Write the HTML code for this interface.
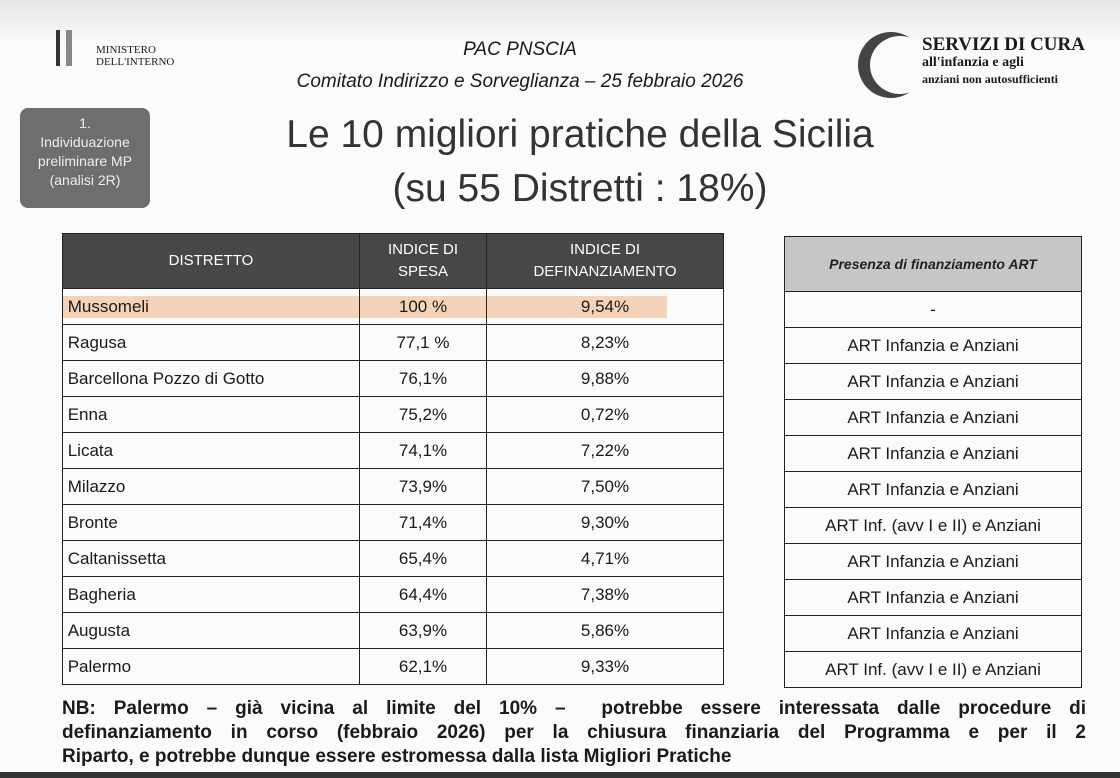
<!DOCTYPE html>
<html><head><meta charset="utf-8"><style>
body{margin:0;width:1120px;height:778px;background:#fbfbfb;position:relative;overflow:hidden;font-family:"Liberation Sans",sans-serif;color:#1a1a1a}
.a{position:absolute}
table{border-collapse:collapse;position:absolute}
td{border:1.5px solid #222;font-size:17px;height:35px;padding:0}
.h td{background:#474747;color:#fff;text-align:center;font-size:15px;height:54px;line-height:22px}
.c{text-align:center}
.nb{position:absolute;left:62px;width:1024px;font-weight:bold;font-size:19px;text-align:justify;text-align-last:justify;white-space:nowrap;overflow:visible}
</style></head><body>
<div class="a" style="left:0;top:0;width:1120px;height:45px;background:linear-gradient(#e6e6e6,#fbfbfb)"></div>
<div class="a" style="left:56px;top:30px;width:4px;height:36px;background:#333"></div>
<div class="a" style="left:66px;top:30px;width:6px;height:36px;background:#888"></div>
<div class="a" style="left:96px;top:44px;font-family:'Liberation Serif',serif;font-size:11px;line-height:12px">MINISTERO<br>DELL'INTERNO</div>
<div class="a" style="left:0;width:1040px;top:34px;text-align:center;font-style:italic;font-size:19px;line-height:32px">PAC PNSCIA<br>Comitato Indirizzo e Sorveglianza – 25 febbraio 2026</div>
<div class="a" style="left:858px;top:32px;width:66px;height:66px;border-radius:50%;background:#444"></div>
<div class="a" style="left:870px;top:36px;width:60px;height:58px;border-radius:50%;background:#fbfbfb"></div>
<div class="a" style="left:922px;top:37px;font-family:'Liberation Serif',serif;font-weight:bold;line-height:16px"><span style="font-size:19px">SERVIZI DI CURA</span><br><span style="font-size:14px">all'infanzia e agli</span><br><span style="font-size:12px">anziani non autosufficienti</span></div>
<div class="a" style="left:20px;top:108px;width:130px;height:100px;border-radius:8px;background:#6e6e6e;color:#eee;font-size:14px;text-align:center;line-height:19px;padding-top:6px;box-sizing:border-box">1.<br>Individuazione<br>preliminare MP<br>(analisi 2R)</div>
<div class="a" style="left:180px;width:800px;top:108px;text-align:center;font-size:39px;line-height:54px;color:#333">Le 10 migliori pratiche della Sicilia<br>(su 55 Distretti : 18%)</div>
<div class="a" style="left:62px;top:296px;width:605px;height:22px;background:#f3c9a8;opacity:.8"></div>
<table style="left:62px;top:233px;width:662px">
<tr class="h"><td style="width:296px">DISTRETTO</td><td style="width:126px">INDICE DI<br>SPESA</td><td>INDICE DI<br>DEFINANZIAMENTO</td></tr>
<tr><td>&nbsp;Mussomeli</td><td class="c">100 %</td><td class="c">9,54%</td></tr>
<tr><td>&nbsp;Ragusa</td><td class="c">77,1 %</td><td class="c">8,23%</td></tr>
<tr><td>&nbsp;Barcellona Pozzo di Gotto</td><td class="c">76,1%</td><td class="c">9,88%</td></tr>
<tr><td>&nbsp;Enna</td><td class="c">75,2%</td><td class="c">0,72%</td></tr>
<tr><td>&nbsp;Licata</td><td class="c">74,1%</td><td class="c">7,22%</td></tr>
<tr><td>&nbsp;Milazzo</td><td class="c">73,9%</td><td class="c">7,50%</td></tr>
<tr><td>&nbsp;Bronte</td><td class="c">71,4%</td><td class="c">9,30%</td></tr>
<tr><td>&nbsp;Caltanissetta</td><td class="c">65,4%</td><td class="c">4,71%</td></tr>
<tr><td>&nbsp;Bagheria</td><td class="c">64,4%</td><td class="c">7,38%</td></tr>
<tr><td>&nbsp;Augusta</td><td class="c">63,9%</td><td class="c">5,86%</td></tr>
<tr><td>&nbsp;Palermo</td><td class="c">62,1%</td><td class="c">9,33%</td></tr>
</table>
<table style="left:784px;top:236px;width:298px">
<tr class="h"><td style="background:#c6c6c6;color:#222;font-style:italic;font-weight:bold;font-size:14px">Presenza di finanziamento ART</td></tr>
<tr><td class="c">-</td></tr>
<tr><td class="c">ART Infanzia e Anziani</td></tr>
<tr><td class="c">ART Infanzia e Anziani</td></tr>
<tr><td class="c">ART Infanzia e Anziani</td></tr>
<tr><td class="c">ART Infanzia e Anziani</td></tr>
<tr><td class="c">ART Infanzia e Anziani</td></tr>
<tr><td class="c">ART Inf. (avv I e II) e Anziani</td></tr>
<tr><td class="c">ART Infanzia e Anziani</td></tr>
<tr><td class="c">ART Infanzia e Anziani</td></tr>
<tr><td class="c">ART Infanzia e Anziani</td></tr>
<tr><td class="c">ART Inf. (avv I e II) e Anziani</td></tr>
</table>
<div class="nb" style="top:698px;white-space:normal">NB: Palermo – già vicina al limite del 10% – &nbsp;potrebbe essere interessata dalle procedure di</div>
<div class="nb" style="top:722px;white-space:normal">definanziamento in corso (febbraio 2026) per la chiusura finanziaria del Programma e per il 2</div>
<div class="nb" style="top:746px;text-align-last:left">Riparto, e potrebbe dunque essere estromessa dalla lista Migliori Pratiche</div>
<div class="a" style="left:0;top:772px;width:1120px;height:6px;background:#333"></div>
</body></html>
